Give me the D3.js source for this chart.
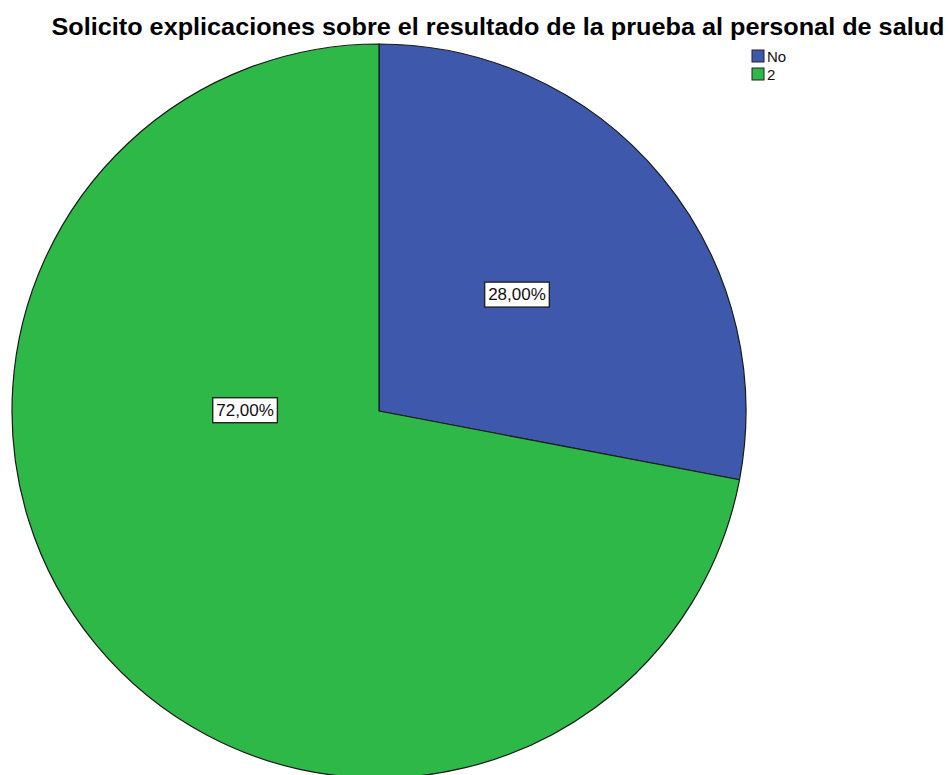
<!DOCTYPE html>
<html><head><meta charset="utf-8">
<script src="https://cdn.jsdelivr.net/npm/d3@7"></script>
<style>body{margin:0;background:#fff}svg{display:block}</style>
</head><body>
<script>
const categories = ["No", "2"];
const values = [28, 72];
const labels = ["28,00%", "72,00%"];
const colors = ["#3E58AC", "#2EB848"];
const titleText = "Solicito explicaciones sobre el resultado de la prueba al personal de salud";

const W = 949, H = 775;
const cx = 379, cy = 411, R = 367;
// label placement (angle in degrees clockwise from top, radius fraction)
const labelAngle = [49.7, 270.6];
const labelRadius = [0.493, 0.365];

const svg = d3.select("body").append("svg").attr("width", W).attr("height", H);

svg.append("text").attr("x", 498).attr("y", 35).attr("text-anchor", "middle")
  .attr("font-family", "Liberation Sans, Arial, sans-serif").attr("font-weight", "bold")
  .attr("font-size", 24).attr("textLength", 893).attr("lengthAdjust", "spacingAndGlyphs")
  .attr("fill", "#000").text(titleText);

const pie = d3.pie().sort(null).value(d => d)(values);
const arc = d3.arc().innerRadius(0).outerRadius(R);
const g = svg.append("g").attr("transform", `translate(${cx},${cy})`);
g.selectAll("path").data(pie).join("path")
  .attr("d", arc).attr("fill", (d, i) => colors[i])
  .attr("stroke", "#1a1a1a").attr("stroke-width", 1.2).attr("stroke-linejoin", "round");

labels.forEach((t, i) => {
  const a = labelAngle[i] * Math.PI / 180, r = labelRadius[i] * R;
  const x = Math.sin(a) * r, y = -Math.cos(a) * r;
  const lg = g.append("g").attr("transform", `translate(${x},${y})`);
  const txt = lg.append("text").attr("text-anchor", "middle").attr("dy", "0.36em")
    .attr("font-family", "Liberation Sans, Arial, sans-serif").attr("font-size", 17)
    .attr("fill", "#111").text(t);
  const bb = txt.node().getBBox();
  lg.insert("rect", "text").attr("x", bb.x - 3.5).attr("y", bb.y - 3)
    .attr("width", bb.width + 7).attr("height", bb.height + 6)
    .attr("fill", "#fff").attr("stroke", "#222").attr("stroke-width", 1.4);
});

const leg = svg.append("g").attr("transform", "translate(752,50)");
categories.forEach((c, i) => {
  const row = leg.append("g").attr("transform", `translate(0,${i * 18})`);
  row.append("rect").attr("width", 12).attr("height", 12)
    .attr("fill", colors[i]).attr("stroke", "#222").attr("stroke-width", 1);
  row.append("text").attr("x", 15).attr("y", 12)
    .attr("font-family", "Liberation Sans, Arial, sans-serif").attr("font-size", 15)
    .attr("fill", "#111").text(c);
});
</script>
</body></html>
